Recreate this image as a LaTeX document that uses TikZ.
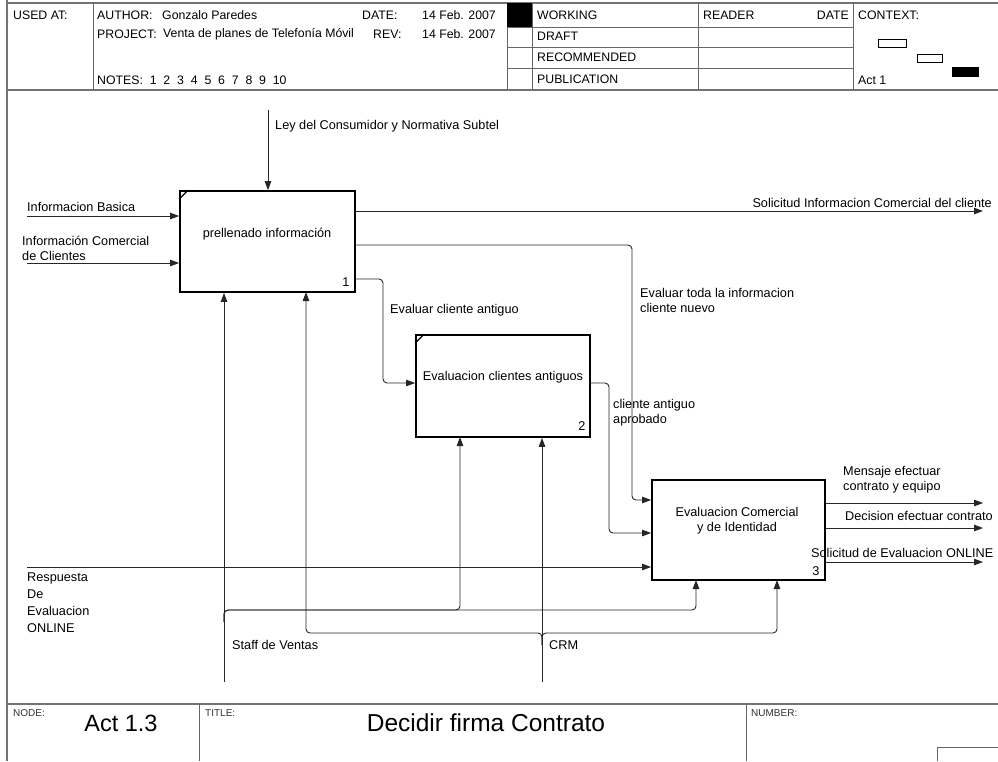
\documentclass[tikz,border=0pt]{standalone}
\usepackage{fontspec}
\setmainfont{Liberation Sans}
\usetikzlibrary{arrows.meta}
\begin{document}
\begin{tikzpicture}[x=1pt,y=-1pt,
  frame/.style={draw=black!55, line width=1.3pt},
  inner/.style={draw=black!60, line width=0.9pt},
  conn/.style={draw=black!85, line width=0.9pt, rounded corners=4pt},
  arr/.style={-{Triangle[length=9pt,width=6.5pt]}},
  lbl/.style={font=\fontsize{12.7}{15}\selectfont, inner sep=0pt, align=left, anchor=west},
  hdr/.style={font=\fontsize{12.3}{14}\selectfont, inner sep=0pt, anchor=west},
  small/.style={font=\fontsize{10}{11}\selectfont, inner sep=0pt, anchor=west, text=black!80},
  big/.style={font=\fontsize{23.5}{26}\selectfont, inner sep=0pt},
  actbox/.style={draw, line width=1.8pt, inner sep=0pt},
  ctx/.style={draw, line width=0.8pt, inner sep=0pt}
]
\useasboundingbox (0,0) rectangle (998,761);
\fill[white] (0,0) rectangle (998,761);

% ---------- frame ----------
\draw[frame] (7,3) -- (998,3);
\draw[frame] (7,0) -- (7,761);
\draw[frame] (7,90) -- (998,90);
\draw[frame] (7,704) -- (998,704);
\foreach \xx in {93,507,532,698,853} \draw[inner] (\xx,3) -- (\xx,90);
\foreach \yy in {27,47,68} \draw[inner] (507,\yy) -- (853,\yy);
\fill (507,3) rectangle (532,27);
\draw[inner] (199,704) -- (199,761);
\draw[inner] (746,704) -- (746,761);
\draw[inner] (937,761) -- (937,747) -- (998,747);

% context boxes
\node[ctx, minimum width=28pt, minimum height=8pt] (c1) at (892,43) {};
\node[ctx, minimum width=25pt, minimum height=8pt] (c2) at (929.5,58) {};
\node[ctx, fill=black, minimum width=26pt, minimum height=9pt] (c3) at (965,71.5) {};

% ---------- header text ----------
\node[hdr] (usedat) at (13,15) {USED AT:};
\node[hdr] (author) at (97,15) {AUTHOR:};
\node[hdr] (authorv) at (162,15) {Gonzalo Paredes};
\node[hdr] (date) at (362,15) {DATE:};
\node[hdr] (datev) at (422,15) {14 Feb. 2007};
\node[hdr] (project) at (97,34) {PROJECT:};
\node[hdr] (projectv) at (163,34) {Venta de planes de Telefonía Móvil};
\node[hdr] (rev) at (373,34) {REV:};
\node[hdr] (revv) at (422,34) {14 Feb. 2007};
\node[hdr] (notes) at (97,80) {NOTES:\ \ 1\ \ 2\ \ 3\ \ 4\ \ 5\ \ 6\ \ 7\ \ 8\ \ 9\ \ 10};
\node[hdr] (working) at (537,15) {WORKING};
\node[hdr] (draft) at (537,36) {DRAFT};
\node[hdr] (recom) at (537,57) {RECOMMENDED};
\node[hdr] (public) at (537,79) {PUBLICATION};
\node[hdr] (reader) at (703,15) {READER};
\node[hdr, anchor=east] (rdate) at (849,15) {DATE};
\node[hdr] (context) at (858,15) {CONTEXT:};
\node[hdr] (act1) at (858,80) {Act 1};

% ---------- footer text ----------
\node[small] (nodelbl) at (13,713) {NODE:};
\node[big] (nodev) at (121,723) {Act 1.3};
\node[small] (titlelbl) at (205,713) {TITLE:};
\node[big, font=\fontsize{24.5}{27}\selectfont] (titlev) at (486,723) {Decidir firma Contrato};
\node[small] (numlbl) at (751,713) {NUMBER:};

% ---------- activity boxes ----------
\node[actbox, minimum width=175pt, minimum height=101pt] (b1) at (267.5,241.5) {};
\node[actbox, minimum width=174pt, minimum height=102pt] (b2) at (503,386) {};
\node[actbox, minimum width=173pt, minimum height=100pt] (b3) at (738.5,530) {};
\draw[line width=1.2pt] (b1.north west) ++(0,9) -- ++(9,-9);
\draw[line width=1.2pt] (b2.north west) ++(0,9) -- ++(9,-9);

\node[lbl, anchor=center] (t1) at (267,234) {prellenado información};
\node[lbl, anchor=center] (t2) at (503,377) {Evaluacion clientes antiguos};
\node[lbl, anchor=center, align=center] (t3) at (737,521) {Evaluacion Comercial\\y de Identidad};
\node[lbl, anchor=center] (n1) at (346,282) {1};
\node[lbl, anchor=center] (n2) at (582,426) {2};
\node[lbl, anchor=center] (n3) at (816,571) {3};

% ---------- free ends ----------
\coordinate (ctrlTop) at (268,110);
\coordinate (inA) at (27,216);
\coordinate (inB) at (27,263);
\coordinate (inR) at (27,567);
\coordinate (outA) at (983,211);
\coordinate (outM) at (983,503);
\coordinate (outD) at (983,528);
\coordinate (outS) at (983,562);
\coordinate (staffBot) at (224,682);
\coordinate (crmBot) at (542,682);

% ---------- connectors ----------
\draw[conn, arr] (ctrlTop) -- (ctrlTop |- b1.north);
\draw[conn, arr] (inA) -- (b1.west |- inA);
\draw[conn, arr] (inB) -- (b1.west |- inB);
\draw[conn, arr] (b1.east |- outA) -- (outA);
\draw[conn, arr] (b1.east |- 0,245) -- (632,245) -- (632,500) -- (b3.west |- 0,500);
\draw[conn, arr] (b1.east |- 0,279) -- (383,279) -- (383,383) -- (b2.west |- 0,383);
\draw[conn, arr] (b2.east |- 0,383) -- (609,383) -- (609,533) -- (b3.west |- 0,533);
\draw[conn, arr] (inR) -- (b3.west |- inR);
\draw[conn, arr] (b3.east |- outM) -- (outM);
\draw[conn, arr] (b3.east |- outD) -- (outD);
\draw[conn, arr] (b3.east |- outS) -- (outS);
% mechanisms
\draw[conn, arr] (staffBot) -- (staffBot |- b1.south);
\draw[conn, arr] (224,622) -- (224,610) -- (460,610) -- (460,437);
\draw[conn, arr] (224,622) -- (224,610) -- (696,610) -- (696,580);
\draw[conn, arr] (crmBot) -- (crmBot |- b2.south);
\draw[conn, arr] (542,645) -- (542,633) -- (306,633) -- (306,292);
\draw[conn, arr] (542,645) -- (542,633) -- (777,633) -- (777,580);

% ---------- labels ----------
\node[lbl] (lLey) at (275,126) {Ley del Consumidor y Normativa Subtel};
\node[lbl] (lInfB) at (27,207) {Informacion Basica};
\node[lbl] (lInfC) at (22,248) {Información Comercial\\de Clientes};
\node[lbl, anchor=east] (lSol) at (992,203) {Solicitud Informacion Comercial del cliente};
\node[lbl] (lEvT) at (640,300) {Evaluar toda la informacion\\cliente nuevo};
\node[lbl] (lEvA) at (390,310) {Evaluar cliente antiguo};
\node[lbl] (lApr) at (613,413) {cliente antiguo\\aprobado};
\node[lbl] (lMen) at (843,480) {Mensaje efectuar\\contrato y equipo};
\node[lbl] (lDec) at (845,516) {Decision efectuar contrato};
\node[lbl] (lSolE) at (811,553) {Solicitud de Evaluacion ONLINE};
\node[lbl, font=\fontsize{12.7}{17}\selectfont] (lResp) at (27,603) {Respuesta\\De\\Evaluacion\\ONLINE};
\node[lbl] (lStaff) at (232,645) {Staff de Ventas};
\node[lbl] (lCRM) at (549,645) {CRM};
\end{tikzpicture}
\end{document}
